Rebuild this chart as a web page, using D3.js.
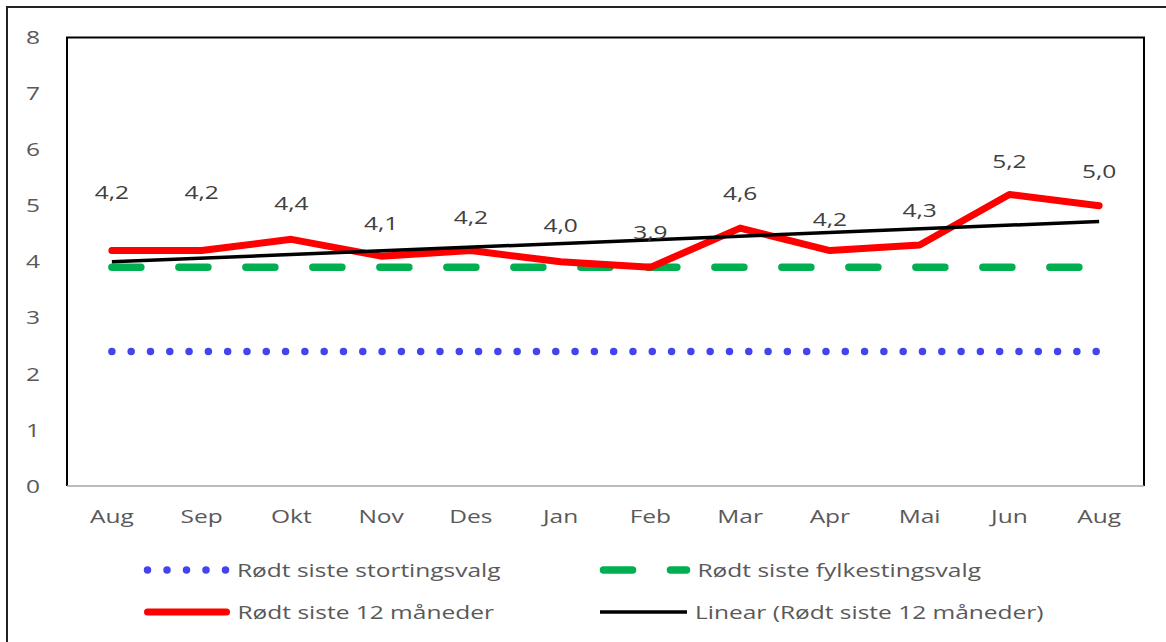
<!DOCTYPE html>
<html>
<head>
<meta charset="utf-8">
<script src="https://cdn.jsdelivr.net/npm/d3@7"></script>
<style>
  body { margin: 0; background: #fff; }
  svg { display: block; }
  text { font-family: "Open Sans", sans-serif; }
</style>
</head>
<body>
<div id="chart"></div>
<script>
// Data
const months = ["Aug", "Sep", "Okt", "Nov", "Des", "Jan", "Feb", "Mar", "Apr", "Mai", "Jun", "Aug"];
const last12 = [4.2, 4.2, 4.4, 4.1, 4.2, 4.0, 3.9, 4.6, 4.2, 4.3, 5.2, 5.0];
const stortingsvalg = 2.4;
const fylkestingsvalg = 3.9;
const yTicks = [0, 1, 2, 3, 4, 5, 6, 7, 8];
const seriesNames = ["Rødt siste stortingsvalg", "Rødt siste fylkestingsvalg",
    "Rødt siste 12 måneder", "Linear (Rødt siste 12 måneder)"];

// label nudges (px above the point), labels were moved by hand in the original
const labelDy = [-58, -58, -36, -33, -33, -36, -35, -35, -31, -35, -33, -34];

const W = 1166, H = 642;
const plot = { left: 67, right: 1144, top: 37.5, bottom: 486 };
const stretch = 1.29; // the original picture is wider than it is tall

const svg = d3.select("#chart").append("svg")
    .attr("width", W)
    .attr("height", H);

// place a text at (px, py) with the horizontal stretch
function place(sel, px, py) {
    return sel.attr("transform", (d, i) =>
        "translate(" + px(d, i) + "," + py(d, i) + ") scale(" + stretch + ",1)");
}

// outer frame (right and bottom edges fall outside the picture)
svg.append("rect")
    .attr("x", 7).attr("y", 7)
    .attr("width", 1180).attr("height", 660)
    .attr("fill", "none")
    .attr("stroke", "#222")
    .attr("stroke-width", 2);

const x = d3.scaleBand()
    .domain(d3.range(months.length))
    .range([plot.left, plot.right]);

const y = d3.scaleLinear()
    .domain([0, 8])
    .range([plot.bottom, plot.top]);

const cx = i => x(i) + x.bandwidth() / 2;

// plot area border
svg.append("path")
    .attr("d", `M${plot.left},${plot.bottom}V${plot.top}H${plot.right}V${plot.bottom}`)
    .attr("fill", "none")
    .attr("stroke", "#000")
    .attr("stroke-width", 2);

// x axis line (gray)
svg.append("line")
    .attr("x1", plot.left).attr("x2", plot.right)
    .attr("y1", plot.bottom).attr("y2", plot.bottom)
    .attr("stroke", "#a6a6a6")
    .attr("stroke-width", 1.5);

// y tick labels
svg.selectAll(".ytick")
    .data(yTicks)
    .enter().append("text")
    .attr("class", "ytick")
    .call(place, () => 40, d => y(d))
    .attr("dy", "0.35em")
    .attr("text-anchor", "end")
    .attr("fill", "#595959")
    .style("font-size", "19px")
    .text(d => d);

// x tick labels
svg.selectAll(".xtick")
    .data(months)
    .enter().append("text")
    .attr("class", "xtick")
    .call(place, (d, i) => cx(i), () => 516)
    .attr("dy", "0.35em")
    .attr("text-anchor", "middle")
    .attr("fill", "#595959")
    .style("font-size", "19px")
    .text(d => d);

const line = d3.line()
    .x((d, i) => cx(i))
    .y(d => y(d));

// flat reference lines
svg.append("path")
    .attr("d", line(months.map(() => stortingsvalg)))
    .attr("fill", "none")
    .attr("stroke", "#4444ee")
    .attr("stroke-width", 7.5)
    .attr("stroke-linecap", "round")
    .attr("stroke-dasharray", "0 19.3");

svg.append("path")
    .attr("d", line(months.map(() => fylkestingsvalg)))
    .attr("fill", "none")
    .attr("stroke", "#00b050")
    .attr("stroke-width", 7.5)
    .attr("stroke-linecap", "round")
    .attr("stroke-dasharray", "29 38");

// last 12 months
svg.append("path")
    .attr("d", line(last12))
    .attr("fill", "none")
    .attr("stroke", "#ff0000")
    .attr("stroke-width", 7)
    .attr("stroke-linecap", "round")
    .attr("stroke-linejoin", "round");

// linear trendline (least squares, as Excel does)
const xs = d3.range(last12.length);
const mx = d3.mean(xs), my = d3.mean(last12);
const slope = d3.sum(xs, i => (i - mx) * (last12[i] - my)) / d3.sum(xs, i => (i - mx) ** 2);
const intercept = my - slope * mx;
const n = last12.length - 1;
svg.append("line")
    .attr("x1", cx(0)).attr("y1", y(intercept))
    .attr("x2", cx(n)).attr("y2", y(intercept + slope * n))
    .attr("stroke", "#000")
    .attr("stroke-width", 3.5);

// data labels
svg.selectAll(".dlabel")
    .data(last12)
    .enter().append("text")
    .attr("class", "dlabel")
    .call(place, (d, i) => cx(i), (d, i) => y(d) + labelDy[i])
    .attr("dy", "0.35em")
    .attr("text-anchor", "middle")
    .attr("fill", "#404040")
    .style("font-size", "19px")
    .text(d => d3.format(".1f")(d).replace(".", ","));

// legend
const legendItems = [
    { name: seriesNames[0], x: 147.5, y: 570, stroke: "#4444ee", w: 7.5, dash: "0 19.5", cap: "round", len: 78.5 },
    { name: seriesNames[1], x: 603.5, y: 570, stroke: "#00b050", w: 7.5, dash: "29 38", cap: "round", len: 83 },
    { name: seriesNames[2], x: 147.5, y: 612, stroke: "#ff0000", w: 7, dash: null, cap: "round", len: 79 },
    { name: seriesNames[3], x: 600, y: 612, stroke: "#000", w: 3.5, dash: null, cap: "butt", len: 87 }
];

const legend = svg.selectAll(".legend")
    .data(legendItems)
    .enter().append("g")
    .attr("class", "legend")
    .attr("transform", d => "translate(" + d.x + "," + d.y + ")");

legend.append("line")
    .attr("x1", 0)
    .attr("x2", d => d.len)
    .attr("stroke", d => d.stroke)
    .attr("stroke-width", d => d.w)
    .attr("stroke-linecap", d => d.cap)
    .attr("stroke-dasharray", d => d.dash);

legend.append("text")
    .call(place, d => d.len + (d.cap === "round" ? 11 : 8), () => 0)
    .attr("dy", "0.35em")
    .attr("fill", "#595959")
    .style("font-size", "19px")
    .text(d => d.name);
</script>
</body>
</html>
